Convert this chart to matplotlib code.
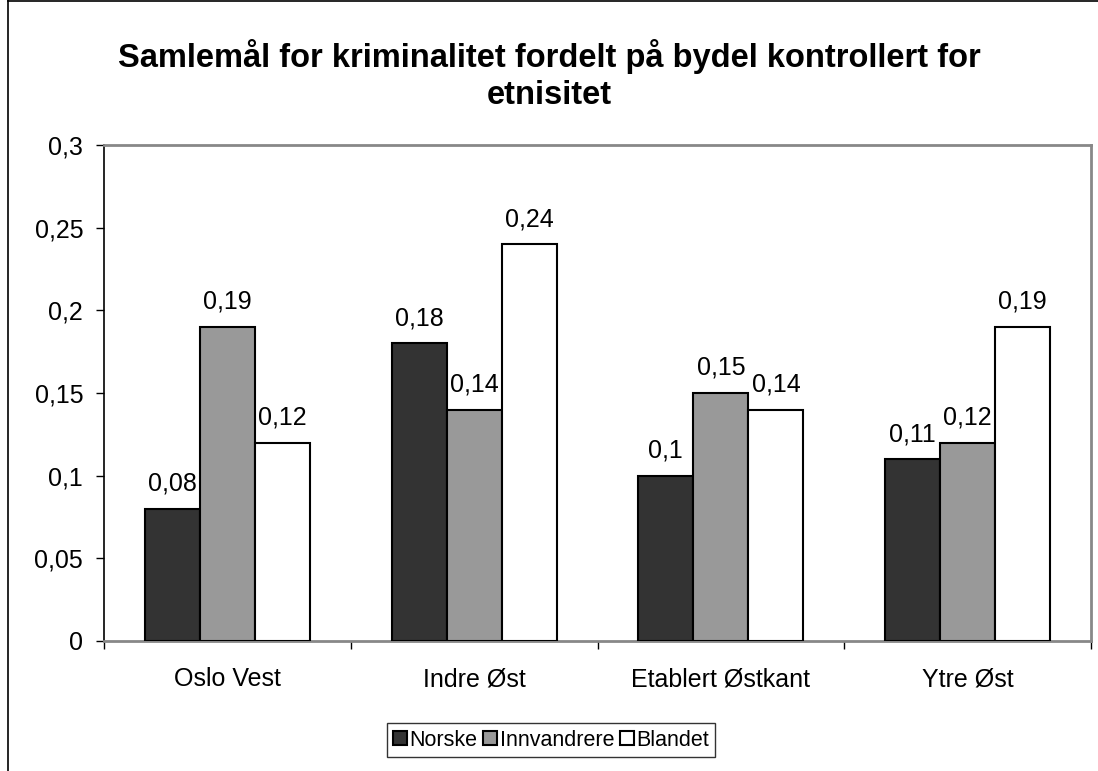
import matplotlib
matplotlib.use("Agg")
import matplotlib.pyplot as plt
import numpy as np
from matplotlib.lines import Line2D

plt.rcParams['font.family'] = ['Liberation Sans', 'DejaVu Sans']

categories = ["Oslo Vest", "Indre Øst", "Etablert Østkant", "Ytre Øst"]
series_names = ["Norske", "Innvandrere", "Blandet"]
norske = [0.08, 0.18, 0.10, 0.11]
innvandrere = [0.19, 0.14, 0.15, 0.12]
blandet = [0.12, 0.24, 0.14, 0.19]
labels_norske = ["0,08", "0,18", "0,1", "0,11"]
labels_innv = ["0,19", "0,14", "0,15", "0,12"]
labels_bland = ["0,12", "0,24", "0,14", "0,19"]
yticks = [0, 0.05, 0.1, 0.15, 0.2, 0.25, 0.3]
ytick_labels = ["0", "0,05", "0,1", "0,15", "0,2", "0,25", "0,3"]
colors = ["#333333", "#999999", "#ffffff"]

FS = 18
W, H = 1098, 771
fig = plt.figure(figsize=(W/100, H/100), dpi=100)
ax = fig.add_axes([104/W, 1-641/H, (1091-104)/W, (641-145)/H])

x = np.arange(len(categories))
bw = 0.223
series = [norske, innvandrere, blandet]
lbls = [labels_norske, labels_innv, labels_bland]
for i, (vals, lab) in enumerate(zip(series, lbls)):
    pos = x + (i-1)*bw
    ax.bar(pos, vals, width=bw, color=colors[i], edgecolor='black', linewidth=1.5, label=series_names[i], zorder=3)
    for p, v, t in zip(pos, vals, lab):
        ax.annotate(t, (p, v), xytext=(0, 13), textcoords='offset points',
                    ha='center', va='baseline', fontsize=FS, zorder=4)

ax.set_xlim(-0.5, len(categories)-0.5)
ax.set_ylim(0, 0.3)
ax.set_yticks(yticks)
ax.set_yticklabels(ytick_labels, fontsize=FS)
ax.set_xticks(x)
ax.set_xticklabels(categories, fontsize=FS)
ax.tick_params(axis='x', length=0, pad=19)
ax.set_xticks(np.arange(-0.5, len(categories)), minor=True)
ax.tick_params(axis='x', which='minor', length=6, width=1, color='black', direction='out')
ax.tick_params(axis='y', length=6, width=1, color='black', direction='out', pad=9)

for s in ['top', 'right', 'bottom']:
    ax.spines[s].set_color('#888888')
    ax.spines[s].set_linewidth(2)
ax.spines['left'].set_color('black')
ax.spines['left'].set_linewidth(1.2)

fig.text(0.5, 1-75/H, "Samlemål for kriminalitet fordelt på bydel kontrollert for\netnisitet",
         ha='center', va='center', fontsize=23.5, fontweight='bold', linespacing=1.25)

leg = fig.legend(loc='center', bbox_to_anchor=(551/W, 1-740/H), ncol=3, fontsize=15.5,
                 frameon=True, fancybox=False, edgecolor='black', handlelength=0.65, handleheight=0.65,
                 handletextpad=0.12, columnspacing=0.25, borderpad=0.3, borderaxespad=0)
leg.get_frame().set_linewidth(1)

fig.add_artist(Line2D([8/W, 8/W], [0, 1], transform=fig.transFigure, color='black', lw=1.2))
fig.add_artist(Line2D([8/W, 1], [1-0.5/H, 1-0.5/H], transform=fig.transFigure, color='black', lw=1.2))

fig.savefig("out.png", dpi=100)
